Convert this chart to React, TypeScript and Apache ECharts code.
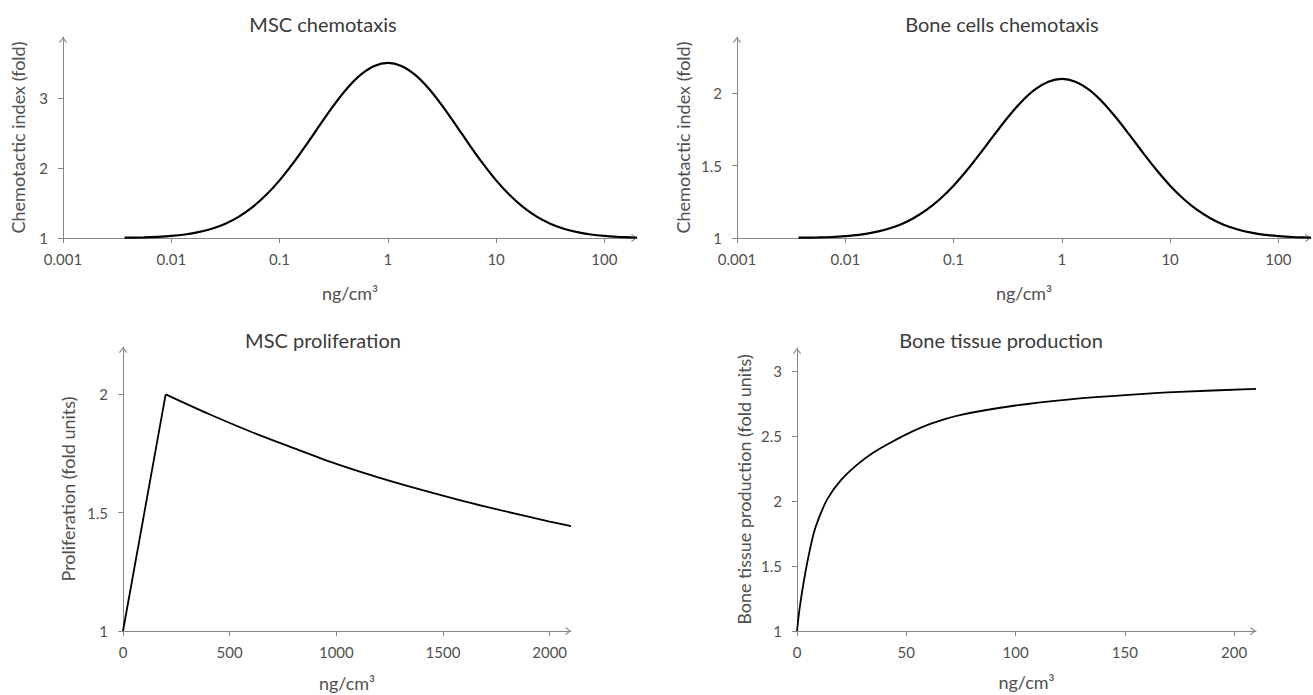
import React, { useEffect, useRef } from "react";
import * as echarts from "echarts";

// ---- data ----
const LOG_TICKS = [0.001, 0.01, 0.1, 1, 10, 100];
const LOG_TICK_LABELS = ["0.001", "0.01", "0.1", "1", "10", "100"];

const CHEMO_X = [
  0.0037, 0.005623, 0.0075, 0.01, 0.01334, 0.01778, 0.02371, 0.03162, 0.04217, 0.05623,
  0.07499, 0.1, 0.1334, 0.1778, 0.2371, 0.3162, 0.4217, 0.5623, 0.7499, 1,
  1.334, 1.778, 2.371, 3.162, 4.217, 5.623, 7.499, 10, 13.34, 17.78,
  23.71, 31.62, 42.17, 56.23, 74.99, 100, 133.4, 177.8, 200,
];
const MSC_CHEMO_Y = [
  1.004, 1.009, 1.017, 1.029, 1.05, 1.083, 1.133, 1.205, 1.306, 1.441,
  1.613, 1.823, 2.068, 2.338, 2.62, 2.894, 3.138, 3.332, 3.457, 3.5,
  3.457, 3.332, 3.138, 2.894, 2.62, 2.338, 2.068, 1.823, 1.613, 1.441,
  1.306, 1.205, 1.133, 1.083, 1.05, 1.029, 1.017, 1.009, 1.007,
];
const BONE_CHEMO_Y = [
  1.002, 1.004, 1.007, 1.013, 1.022, 1.037, 1.059, 1.09, 1.135, 1.194,
  1.27, 1.362, 1.47, 1.589, 1.713, 1.833, 1.941, 2.026, 2.081, 2.1,
  2.081, 2.026, 1.941, 1.833, 1.713, 1.589, 1.47, 1.362, 1.27, 1.194,
  1.135, 1.09, 1.059, 1.037, 1.022, 1.013, 1.007, 1.004, 1.003,
];

const PROLIF_RISE_X = [0, 200];
const PROLIF_RISE_Y = [1, 2];
const PROLIF_DECAY_X = [200, 400, 600, 800, 1000, 1200, 1400, 1600, 1800, 2000, 2100];
const PROLIF_DECAY_Y = [2, 1.918, 1.842, 1.773, 1.706, 1.648, 1.596, 1.548, 1.504, 1.462, 1.443];

const TISSUE_X = [0, 1, 2.3, 4.6, 7.6, 10, 14, 20, 27.4, 35, 42.7, 50, 61, 75, 100, 125, 150, 175, 210];
const TISSUE_Y = [1, 1.15, 1.3, 1.52, 1.75, 1.87, 2.02, 2.16, 2.28, 2.375, 2.45, 2.515, 2.595, 2.665, 2.737, 2.785, 2.817, 2.842, 2.865];

const MSC_CHEMO_YTICKS = [1, 2, 3];
const BONE_CHEMO_YTICKS = [1, 1.5, 2];
const PROLIF_XTICKS = [0, 500, 1000, 1500, 2000];
const PROLIF_YTICKS = [1, 1.5, 2];
const TISSUE_XTICKS = [0, 50, 100, 150, 200];
const TISSUE_YTICKS = [1, 1.5, 2, 2.5, 3];

const TITLES = ["MSC chemotaxis", "Bone cells chemotaxis", "MSC proliferation", "Bone tissue production"];
const X_NAME = "ng/cm³";

// ---- styling ----
const FONT = 'Lato, "Noto Sans", sans-serif';
const AXIS_COLOR = "#868686";
const LABEL_COLOR = "#505050";
const NAME_COLOR = "#505050";
const TITLE_COLOR = "#3a3a3a";
const ARROW = "path://M4 0 L8 5.2 L7.2 6 L4 1.8 L0.8 6 L0 5.2 Z";

const zip = (xs: number[], ys: number[]) => xs.map((x, i) => [x, ys[i]]);

const logLabel = (v: number) => {
  const i = LOG_TICKS.findIndex((t) => Math.abs(Math.log10(t) - Math.log10(v)) < 1e-6);
  return i >= 0 ? LOG_TICK_LABELS[i] : "";
};

function axisBase(gridIndex: number, ticks: number[]) {
  return {
    gridIndex,
    axisLine: {
      show: true,
      onZero: false,
      symbol: ["none", ARROW],
      symbolSize: [8, 6],
      symbolOffset: [0, -3],
      lineStyle: { color: AXIS_COLOR, width: 1 },
    },
    axisTick: {
      show: true,
      length: 5,
      customValues: ticks,
      lineStyle: { color: AXIS_COLOR, width: 1 },
    },
    splitLine: { show: false },
    nameTextStyle: { color: NAME_COLOR, fontSize: 18, fontFamily: FONT },
  };
}

function xAxisOf(gridIndex: number, type: string, min: number, max: number, ticks: number[], gap: number) {
  const a: any = {
    ...axisBase(gridIndex, ticks),
    type,
    min,
    max,
    name: X_NAME,
    nameLocation: "middle",
    nameGap: gap,
    axisLabel: {
      customValues: ticks,
      margin: 13,
      color: LABEL_COLOR,
      fontSize: 15,
      fontFamily: FONT,
      formatter: (v: number) => String(v),
    },
  };
  if (type === "log") {
    a.logBase = 10;
    a.axisLabel.formatter = (v: number) => logLabel(v);
  }
  return a;
}

function yAxisOf(gridIndex: number, min: number, max: number, ticks: number[], name: string, gap: number) {
  return {
    ...axisBase(gridIndex, ticks),
    type: "value",
    min,
    max,
    name,
    nameLocation: "middle",
    nameGap: gap,
    axisLabel: {
      customValues: ticks,
      margin: 15,
      color: LABEL_COLOR,
      fontSize: 15,
      fontFamily: FONT,
      formatter: (v: number) => String(v),
    },
  };
}

function lineSeries(idx: number, data: number[][], width: number, smooth: boolean | number) {
  return {
    type: "line",
    xAxisIndex: idx,
    yAxisIndex: idx,
    data,
    showSymbol: false,
    symbol: "none",
    smooth,
    lineStyle: { color: "#000", width },
    z: 5,
  };
}

const TITLE_POS = [
  [323, 24],
  [1002, 24],
  [323, 340],
  [1001, 340],
];

const option: any = {
  animation: false,
  backgroundColor: "#fff",
  grid: [
    { left: 63, top: 37, width: 574, height: 201 },
    { left: 737, top: 37, width: 574, height: 201 },
    { left: 123, top: 347, width: 448, height: 284 },
    { left: 797, top: 348, width: 459, height: 283 },
  ],
  xAxis: [
    xAxisOf(0, "log", 0.001, 200, LOG_TICKS, 46),
    xAxisOf(1, "log", 0.001, 200, LOG_TICKS, 46),
    xAxisOf(2, "value", 0, 2100, PROLIF_XTICKS, 43),
    xAxisOf(3, "value", 0, 210, TISSUE_XTICKS, 42),
  ],
  yAxis: [
    yAxisOf(0, 1, 3.87, MSC_CHEMO_YTICKS, "Chemotactic index (fold)", 36),
    yAxisOf(1, 1, 2.39, BONE_CHEMO_YTICKS, "Chemotactic index (fold)", 45),
    yAxisOf(2, 1, 2.2, PROLIF_YTICKS, "Proliferation (fold units)", 46),
    yAxisOf(3, 1, 3.18, TISSUE_YTICKS, "Bone tissue production (fold units)", 44),
  ],
  graphic: TITLES.map((t, i) => ({
    type: "text",
    x: TITLE_POS[i][0],
    y: TITLE_POS[i][1],
    style: {
      text: t,
      align: "center",
      verticalAlign: "middle",
      fontSize: 20,
      fontFamily: FONT,
      fill: TITLE_COLOR,
    },
  })),
  series: [
    lineSeries(0, zip(CHEMO_X, MSC_CHEMO_Y), 2.2, 0.3),
    lineSeries(1, zip(CHEMO_X, BONE_CHEMO_Y), 2.2, 0.3),
    lineSeries(2, zip(PROLIF_RISE_X, PROLIF_RISE_Y), 1.8, false),
    lineSeries(2, zip(PROLIF_DECAY_X, PROLIF_DECAY_Y), 1.8, 0.3),
    lineSeries(3, zip(TISSUE_X, TISSUE_Y), 1.8, 0.3),
  ],
};

export default function App() {
  const ref = useRef<HTMLDivElement>(null);
  useEffect(() => {
    if (!ref.current) return;
    const chart = echarts.init(ref.current, null, { renderer: "svg" });
    chart.setOption(option);
    return () => chart.dispose();
  }, []);
  return (
    <div
      ref={ref}
      style={{ position: "fixed", left: 0, top: 0, width: 1313, height: 695, background: "#fff" }}
    />
  );
}
